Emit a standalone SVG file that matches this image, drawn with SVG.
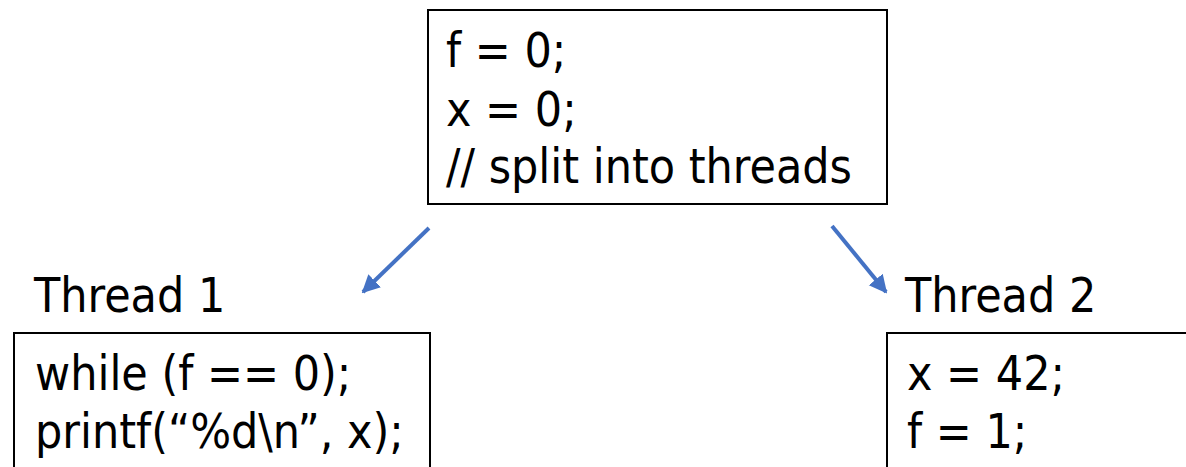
<svg xmlns="http://www.w3.org/2000/svg" width="1186" height="467" viewBox="0 0 1186 467">
<defs>
<style>
.box{fill:#fff;stroke:#000;stroke-width:2}
.t{font-family:"DejaVu Sans Condensed","DejaVu Sans",sans-serif;font-stretch:condensed;font-size:47.8px;fill:#000}
.arr{stroke:#4472C4;stroke-width:4;fill:none}
</style>
<marker id="ah" viewBox="0 0 10 10" refX="9" refY="5" markerWidth="4.5" markerHeight="5" markerUnits="strokeWidth" orient="auto">
<path d="M0,0 L10,5 L0,10 z" fill="#4472C4"/>
</marker>
</defs>
<rect width="1186" height="467" fill="#fff"/>
<g id="main">
<rect class="box" x="428" y="10" width="459" height="194"/>
<text class="t" x="446" y="67">f = 0;</text>
<text class="t" x="446" y="126">x = 0;</text>
<text class="t" x="446" y="183">// split into threads</text>
</g>
<g id="thread1">
<text class="t" x="34" y="312">Thread 1</text>
<rect class="box" x="14" y="333" width="416" height="150"/>
<text class="t" x="35" y="390">while (f == 0);</text>
<text class="t" x="35" y="448">printf(“%d\n”, x);</text>
</g>
<g id="thread2">
<text class="t" x="905" y="312">Thread 2</text>
<rect class="box" x="887" y="333" width="320" height="150"/>
<text class="t" x="907" y="390">x = 42;</text>
<text class="t" x="907" y="448">f = 1;</text>
</g>
<g id="connectors">
<line class="arr" x1="429" y1="228" x2="363" y2="292" marker-end="url(#ah)"/>
<line class="arr" x1="832" y1="226" x2="886" y2="292" marker-end="url(#ah)"/>
</g>
</svg>
